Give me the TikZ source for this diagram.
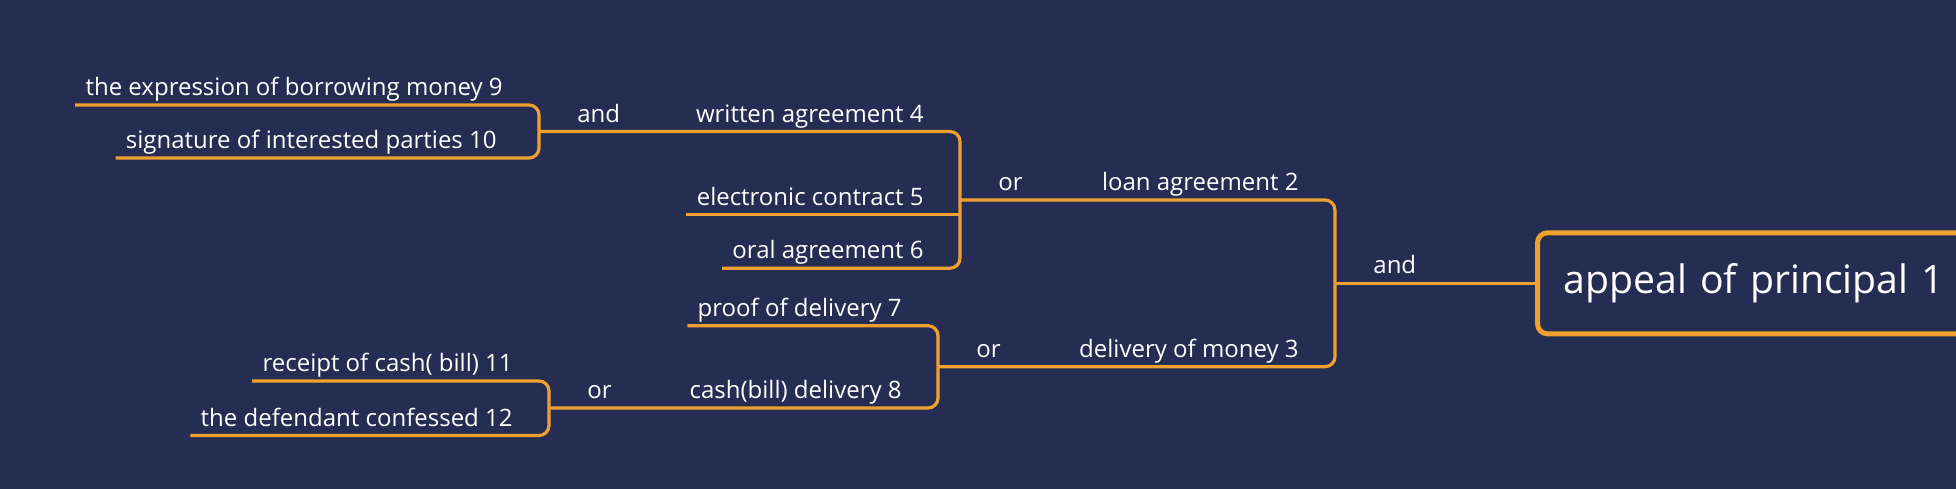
\documentclass[tikz,border=0pt]{standalone}
\usepackage{fontspec}
\setmainfont{Open Sans}
\usepackage{tikz}
\usetikzlibrary{positioning, calc}
\definecolor{mmnavy}{RGB}{38,45,82}
\definecolor{mmorange}{RGB}{240,160,46}
\tikzset{
    mmtopic/.style={text=white, font=\fontsize{12}{14}\selectfont, inner xsep=5pt, inner ysep=0pt, text depth=4.5pt, anchor=south east},
    mmgate/.style={text=white, font=\fontsize{12}{14}\selectfont, inner sep=0pt, text depth=4.5pt, anchor=south west, xshift=19pt},
    mmbranch/.style={draw=mmorange, line width=1.6pt, rounded corners=5pt},
    mmroot/.style={draw=mmorange, fill=mmnavy, line width=2.5pt, rounded corners=5pt, text=white, font=\fontsize{19.6}{24}\selectfont, anchor=west, minimum height=50.5pt, text width=220pt, inner xsep=13pt, align=left}
}

\begin{document}
\begin{tikzpicture}[x=0.5pt, y=-0.5pt]

\useasboundingbox (0,0) rectangle (1956,488);
\fill[mmnavy] (-10,-10) rectangle (1966,498);
\clip (0,0) rectangle (1956,488);

\coordinate (j4) at (539,131.5);
\coordinate (j2) at (960,200);
\coordinate (jr) at (1335,283.3);
\coordinate (j3) at (938,366.7);
\coordinate (j8) at (549,408);

\node[mmroot] (root) at (1535,283.3) {appeal of principal 1};

\node[mmtopic] (t2) at (1309,200) {loan agreement 2};
\node[mmtopic] (t3) at (1309,366.7) {delivery of money 3};
\node[mmtopic] (t4) at (934,131.5) {written agreement 4};
\node[mmtopic] (t5) at (934,214.6) {electronic contract 5};
\node[mmtopic] (t6) at (934,268.2) {oral agreement 6};
\node[mmtopic] (t7) at (912,325.7) {proof of delivery 7};
\node[mmtopic] (t8) at (912,408) {cash(bill) delivery 8};
\node[mmtopic] (t9) at (513,105) {the expression of borrowing money 9};
\node[mmtopic] (t10) at (507,158) {signature of interested parties 10};
\node[mmtopic] (t11) at (523,381) {receipt of cash( bill) 11};
\node[mmtopic] (t12) at (523,435.5) {the defendant confessed 12};

\node[mmgate] (g1) at (jr) {and};
\node[mmgate] (g2) at (j2) {or};
\node[mmgate] (g3) at (j3) {or};
\node[mmgate] (g4) at (j4) {and};
\node[mmgate] (g8) at (j8) {or};

\draw[mmbranch] (jr) -- (root.west);
\draw[mmbranch] (j2) -| (jr);
\draw[mmbranch] (j3) -| (jr);
\draw[mmbranch] (j4) -| (j2);
\draw[mmbranch] (t5.south west) -- (t5.south west -| j2);
\draw[mmbranch] (t6.south west) -| (j2);
\draw[mmbranch] (t7.south west) -| (j3);
\draw[mmbranch] (j8) -| (j3);
\draw[mmbranch] (t9.south west) -| (j4);
\draw[mmbranch] (t10.south west) -| (j4);
\draw[mmbranch] (t11.south west) -| (j8);
\draw[mmbranch] (t12.south west) -| (j8);

\end{tikzpicture}
\end{document}
